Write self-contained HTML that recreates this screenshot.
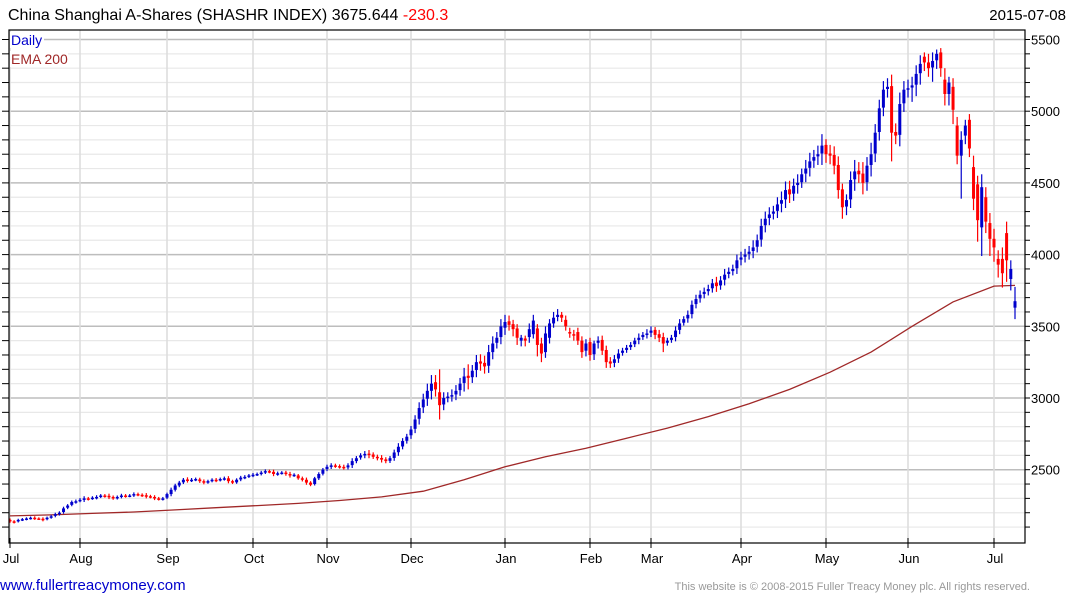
<!DOCTYPE html>
<html><head><meta charset="utf-8"><style>
body{margin:0;background:#fff;width:1075px;height:600px;overflow:hidden;font-family:"Liberation Sans",sans-serif}
svg{display:block}
</style></head><body>
<svg id="chart" width="1075" height="600">
<text x="8" y="20" font-size="16" fill="#000">China Shanghai A-Shares (SHASHR INDEX) 3675.644 <tspan fill="#ff0000">-230.3</tspan></text>
<text x="1066" y="20" font-size="15" text-anchor="end" fill="#000">2015-07-08</text>
<g id="grid"></g>
<g id="ema"></g>
<g id="candles"></g>
<rect x="9" y="30" width="1016" height="513" fill="none" stroke="#000" stroke-width="1.2"/>
<g id="axes"></g>
<rect x="10" y="32" width="34" height="16" fill="#fff"/>
<text x="11" y="45" font-size="14" fill="#0000cc">Daily</text>
<rect x="10" y="51" width="58" height="16" fill="#fff"/>
<text x="11" y="64" font-size="14" fill="#a02828">EMA 200</text>
<text x="0" y="590" font-size="15" fill="#0000cc">www.fullertreacymoney.com</text>
<text x="1030" y="590" font-size="11" fill="#999" text-anchor="end">This website is © 2008-2015 Fuller Treacy Money plc. All rights reserved.</text>
</svg>
<script>
const closes=[2140,2135,2150,2155,2160,2165,2160,2158,2150,2165,2175,2190,2200,2230,2250,2275,2280,
2290,2300,2295,2305,2310,2320,2315,2310,2300,2310,2320,2315,2320,2330,2325,2320,2315,2310,2300,2295,2300,
2330,2360,2390,2410,2430,2425,2430,2435,2420,2410,2420,2430,2425,2435,2440,2420,2410,2430,2445,2450,2460,
2465,2470,2480,2490,2485,2470,2475,2480,2470,2460,2465,2440,2430,2410,2395,2440,2470,2500,
2520,2530,2525,2520,2515,2530,2560,2580,2600,2610,2605,2590,2580,2570,2560,2580,2620,2660,2700,2730,
2780,2850,2930,2990,3050,3100,3060,2950,3000,3010,3020,3050,3100,3150,3140,3190,3250,3240,3220,3320,3380,3420,3500,
3530,3510,3480,3420,3420,3400,3480,3540,3370,3310,3450,3520,3560,3580,3560,3500,3450,3440,3400,3320,3380,
3300,3380,3400,3330,3250,3240,3270,3310,3330,3350,3370,3400,3420,3440,3450,
3470,3440,3420,3380,3400,3420,3470,3520,3550,3580,3650,3690,3720,3740,3760,3800,3780,3820,3860,3880,3900,3960,
3980,4000,4020,4050,4100,4200,4250,4280,4300,4350,4380,4450,4420,4480,4500,4560,4600,4650,4680,4700,4760,
4700,4690,4620,4450,4330,4380,4520,4580,4560,4500,4620,4700,4850,5020,5150,5170,4850,4830,5050,5150,
5160,5180,5260,5330,5340,5300,5350,5400,5300,5120,5200,5010,4690,4800,4900,4740,4390,4240,4470,4230,4110,4050,
3930,3870,3960,3900,3675];
const opens=[2150,2140,2140,2150,2155,2160,2165,2160,2158,2155,2168,2178,2190,2205,2235,2255,2275,
2285,2290,2300,2300,2305,2312,2320,2318,2310,2302,2312,2320,2318,2322,2330,2325,2322,2315,2310,2300,2295,
2305,2330,2360,2390,2412,2432,2426,2430,2432,2420,2412,2422,2430,2428,2436,2440,2420,2412,2432,2446,2452,
2460,2466,2472,2482,2490,2485,2470,2476,2480,2470,2460,2460,2440,2430,2410,2400,2440,2472,
2505,2520,2530,2525,2520,2516,2532,2560,2585,2600,2612,2606,2590,2582,2572,2562,2582,2622,2662,2702,
2740,2785,2855,2935,2995,3050,3110,3040,2955,3000,3015,3025,3055,3105,3155,3145,3195,3255,3245,3225,3320,3385,3425,
3490,3535,3515,3485,3400,3415,3425,3445,3485,3380,3320,3420,3520,3565,3580,3545,3460,3445,3460,3400,3330,
3390,3305,3385,3405,3335,3255,3245,3275,3315,3335,3355,3375,3405,3425,3445,
3455,3475,3445,3425,3385,3405,3425,3475,3525,3555,3585,3655,3695,3725,3745,3765,3805,3785,3825,3865,3885,3905,
3965,3985,4005,4025,4055,4105,4205,4255,4285,4305,4355,4385,4455,4425,4485,4505,4565,4605,4655,4685,4705,
4765,4705,4695,4625,4455,4335,4385,4525,4585,4565,4505,4625,4705,4855,5025,5155,5175,4855,4835,5055,
5155,5165,5185,5265,5380,5340,5305,5355,5410,5220,5120,5170,4900,4690,4830,4940,4610,4490,4190,4400,4220,4110,
3970,3970,4150,3830,3630];
const hiExt=[10,8,8,8,8,8,10,8,10,8,10,10,10,12,10,10,12,
12,15,10,10,12,10,10,15,10,10,12,10,10,12,10,10,15,10,12,10,10,
10,15,12,12,12,15,12,10,12,12,10,10,12,10,12,15,10,10,12,12,10,
12,10,12,12,10,15,12,10,12,15,10,10,12,15,10,10,12,12,
15,15,12,12,15,15,20,15,15,20,25,15,15,20,15,15,20,25,20,20,
25,30,40,40,50,60,50,160,40,30,40,40,40,60,80,40,50,50,50,50,50,40,50,
50,40,30,30,20,20,40,40,30,40,50,30,40,40,20,30,30,30,30,30,30,
30,20,30,30,30,30,30,30,20,20,20,20,30,20,30,
30,20,30,30,20,20,30,30,20,30,30,30,30,30,30,30,40,30,40,30,30,40,
40,40,40,50,40,50,50,50,40,50,60,60,60,50,60,40,60,60,50,60,80,
40,60,60,60,40,40,60,80,60,80,60,80,60,60,60,60,80,60,80,60,
60,60,60,60,30,60,60,30,30,80,40,60,60,60,40,40,80,60,90,70,70,70,
60,80,80,60,100];
const loExt=[10,10,8,8,8,8,10,8,10,8,10,10,10,12,10,10,12,
12,15,10,10,12,10,10,15,10,10,12,10,10,12,10,10,15,10,12,10,10,
10,15,12,12,12,15,12,10,12,12,10,10,12,10,12,15,10,10,12,12,10,
12,10,12,12,10,15,12,10,12,15,10,10,12,15,10,10,12,12,
15,15,12,12,15,15,20,15,15,20,25,15,15,20,15,15,20,25,20,20,
25,30,40,40,50,60,50,100,40,30,40,40,40,60,80,40,50,50,50,50,50,40,50,
50,40,50,50,40,40,40,30,80,60,40,40,30,30,30,30,30,40,30,40,40,
40,40,40,30,40,30,30,30,20,20,20,20,30,20,30,
30,30,30,60,20,20,30,30,20,30,30,30,30,30,30,30,40,30,40,30,30,40,
40,40,40,50,40,50,50,50,40,50,60,60,60,50,60,40,60,60,50,60,80,
60,60,60,60,80,60,60,80,60,80,60,80,60,60,60,60,200,60,80,60,
60,100,80,80,60,60,100,60,60,80,80,100,60,300,60,60,80,150,200,80,120,100,
90,100,150,80,80];
const emaIdx=[0,10,20,30,40,50,60,70,80,90,100,110,120,130,140,150,160,170,180,190,200,210,220,230,240,245];
const emaVals=[2178,2185,2195,2205,2220,2235,2250,2265,2285,2310,2350,2430,2520,2590,2650,2720,2790,2870,2960,3060,3180,3320,3500,3670,3780,3785];
const monthLabels=["Jul","Aug","Sep","Oct","Nov","Dec","Jan","Feb","Mar","Apr","May","Jun","Jul"];
const monthStarts=[0,17,38,59,77,97,120,141,156,178,199,219,240];
const yTicks=[2500,3000,3500,4000,4500,5000,5500];

const NS="http://www.w3.org/2000/svg";
// x axis: piecewise-linear through month gridline pixels
const AXIS_KNOTS_I=[0,17,38,59,77,97,120,141,156,178,199,219,240,245];
const AXIS_KNOTS_X=[10,80,167,253,327,411,505,590,651,741,826,908,994,1015];
function xs(i){
  for(let k=0;k<AXIS_KNOTS_I.length-1;k++){
    if(i<=AXIS_KNOTS_I[k+1]){const a=AXIS_KNOTS_I[k],b=AXIS_KNOTS_I[k+1];return AXIS_KNOTS_X[k]+(i-a)/(b-a)*(AXIS_KNOTS_X[k+1]-AXIS_KNOTS_X[k]);}
  }
  return 1015;
}
function ys(v){return 39.5+(5500-v)*0.1434;}
function mk(tag,attrs,parent){const e=document.createElementNS(NS,tag);for(const k in attrs)e.setAttribute(k,attrs[k]);parent.appendChild(e);return e;}
const grid=document.getElementById('grid'),axes=document.getElementById('axes');
for(let v=2100;v<=5500;v+=100){
  const major=v%500===0;
  const gl=mk('line',{x1:9,x2:1025,y1:ys(v),y2:ys(v),stroke:major?'#bdbdbd':'#e8e8e8','stroke-width':major?1.5:1.2},grid);
  
  
  const t1=mk('line',{x1:2,x2:9,y1:ys(v),y2:ys(v),stroke:'#000'},axes);
  
  
  const t2=mk('line',{x1:1025,x2:1030,y1:ys(v),y2:ys(v),stroke:'#000'},axes);
  
  
}
yTicks.forEach(v=>{
  const t=mk('text',{x:1031,y:ys(v)+5,'font-size':13,fill:'#000'},axes);
  t.textContent=v;
  
  
});
monthStarts.forEach((i,k)=>{
  const x=xs(i);
  const g=mk('line',{x1:x,x2:x,y1:30,y2:543,stroke:'#dcdcdc','stroke-width':1.5},grid);
  
  
  const tk=mk('line',{x1:x,x2:x,y1:538,y2:548,stroke:'#000'},axes);
  
  
  const t=mk('text',{x:x+1,y:563,'font-size':13,'text-anchor':'middle',fill:'#000'},axes);
  t.textContent=monthLabels[k];
  
  
});
const pts=emaIdx.map((i,k)=>xs(i).toFixed(1)+','+ys(emaVals[k]).toFixed(1)).join(' ');
const ema=mk('polyline',{points:pts,fill:'none',stroke:'#a02828','stroke-width':1.3},document.getElementById('ema'));


const cg=document.getElementById('candles');
closes.forEach((c,i)=>{
  const o=opens[i];
  const col=c>=o?'#0000cc':'#ff0000';
  const x=xs(i);
  const hi=Math.max(o,c)+hiExt[i], lo=Math.min(o,c)-loExt[i];
  const w=mk('line',{x1:x,x2:x,y1:ys(hi),y2:ys(lo),stroke:col,'stroke-width':1.2},cg);
  
  
  const top=ys(Math.max(o,c)),bot=ys(Math.min(o,c));
  const b=mk('rect',{x:x-1.5,y:top,width:3,height:Math.max(1.5,bot-top),fill:col},cg);
  
  
});
</script>
</body></html>
